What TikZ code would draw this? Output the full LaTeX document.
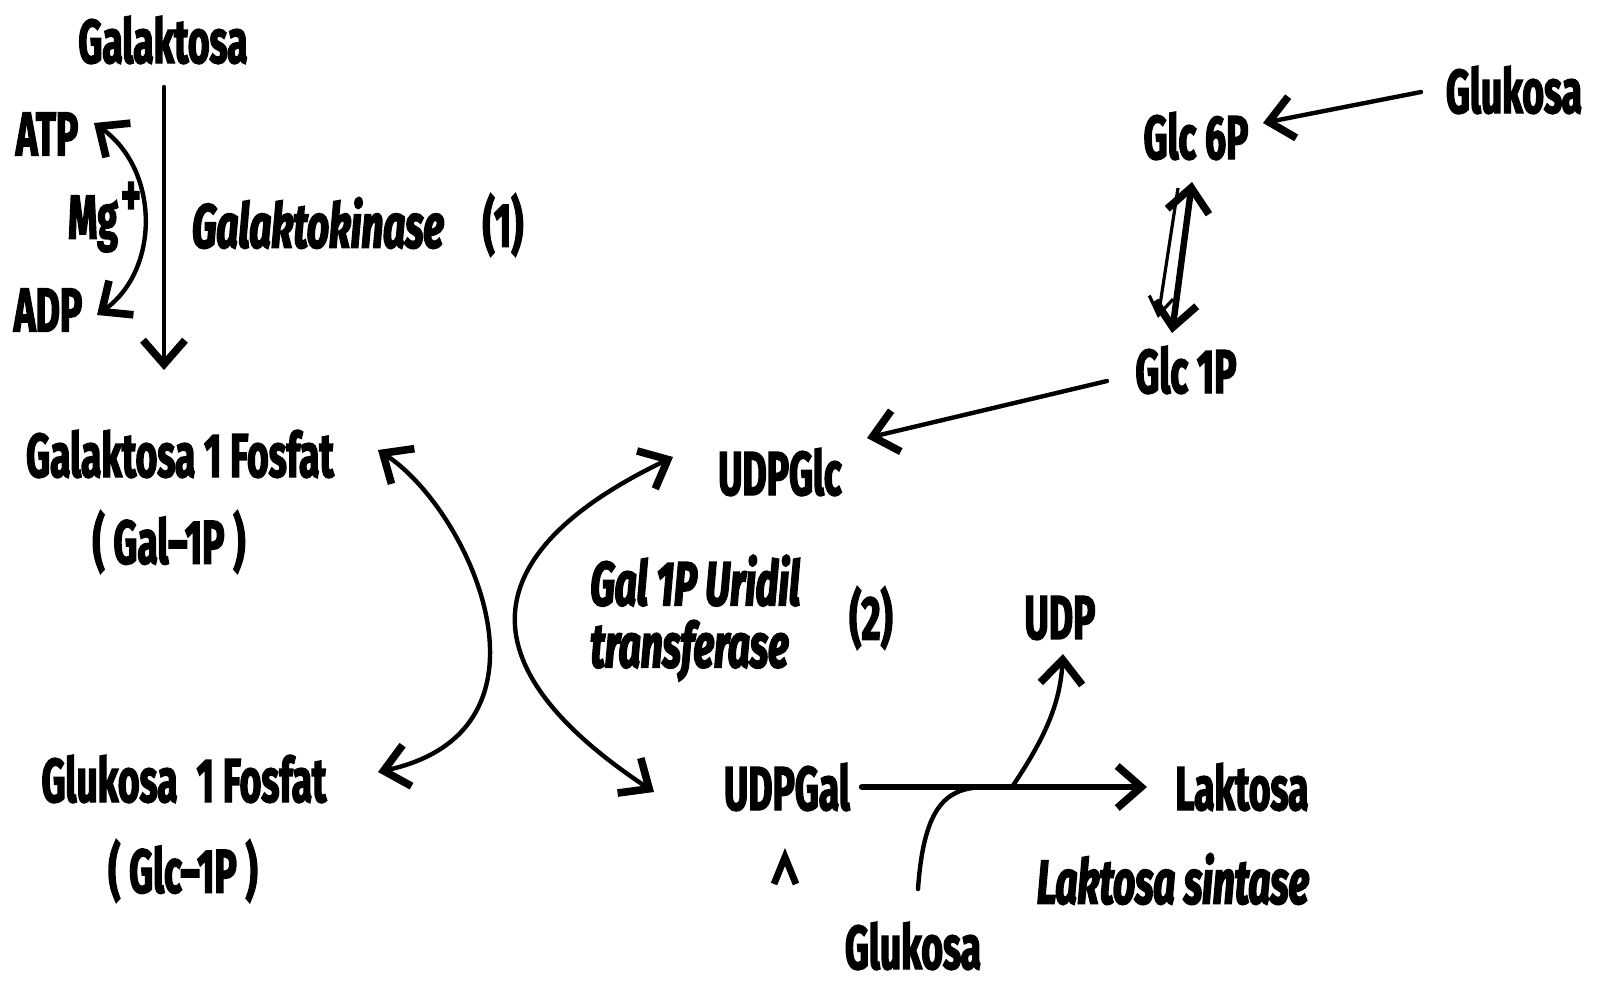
\documentclass[tikz,border=0pt]{standalone}
\usepackage{fontspec}
\setmainfont{Fira Sans}[FakeStretch=0.6, FakeBold=2.2]
\newfontfamily\enzfont{Fira Sans}[FakeStretch=0.62, FakeBold=2.8]
\usetikzlibrary{arrows.meta}

\begin{document}
\begin{tikzpicture}[x=0.5pt,y=-0.5pt,
  lbl/.style={font=\fontsize{31}{36}\selectfont\bfseries, inner sep=1pt},
  enz/.style={font=\fontsize{31}{31}\selectfont\enzfont\bfseries\itshape, inner sep=1pt},
  conn/.style={line width=2.2pt, line cap=round},
  heavy/.style={line width=3.2pt, line cap=round},
  barb/.tip={Straight Barb[length=12pt,width=21pt,line width=3.8pt]},
  thinbarb/.tip={Straight Barb[length=9pt,width=12pt,line width=1.6pt]}]

\useasboundingbox (0,0) rectangle (1603,986);

% metabolites
\node[lbl] (galaktosa) at (163,40)  {Galaktosa};
\node[lbl] (atp)       at (47,134)  {ATP};
\node[lbl] (adp)       at (48,310)  {ADP};
\node[lbl] (mg)        at (93,224)  {Mg};
\node[lbl] (plus)      at (131,199) {+};
\node[lbl] (gal1p)     at (180,454) {Galaktosa 1 Fosfat};
\node[lbl] (gal1pab)   at (169,542) {( Gal–1P )};
\node[lbl] (glc1pf)    at (184,779) {Glukosa\, 1 Fosfat};
\node[lbl] (glc1pab)   at (183,871) {( Glc–1P )};
\node[lbl] (udpglc)    at (780,472) {UDPGlc};
\node[lbl] (udpgal)    at (787,787) {UDPGal};
\node[lbl] (udp)       at (1060,618) {UDP};
\node[lbl] (laktosa)   at (1242,787) {Laktosa};
\node[lbl] (glukosab)  at (913,946) {Glukosa};
\node[lbl] (glukosat)  at (1514,90) {Glukosa};
\node[lbl] (glc6p)     at (1196,136) {Glc 6P};
\node[lbl] (glc1p)     at (1186,370) {Glc 1P};

% enzymes and step numbers
\node[enz] (kinase)  at (318,223) {Galaktokinase};
\node[lbl] (n1)      at (503,225) {(1)};
\node[enz, align=left, anchor=west] (transf) at (588,618)
     {Gal 1P Uridil\\transferase};
\node[lbl] (n2)      at (871,618) {(2)};
\node[enz] (sintase) at (1173,879) {Laktosa sintase};

% galactokinase step
\draw[conn, -{barb}] ([shift={(1,47)}]galaktosa.center) -- ([shift={(-16,-84)}]gal1p.center);
\draw[conn, {barb}-{barb}] ([shift={(49,5)}]adp.center)
  .. controls +(63,-45) and +(66,47) .. ([shift={(47,-11)}]atp.center);

% uridyl transferase exchange
\draw[conn, {barb}-{barb}] ([shift={(198,-4)}]gal1p.center)
  .. controls +(92,60) and +(192,-42) .. ([shift={(194,-7)}]glc1pf.center);
\draw[conn, {barb}-{barb}] ([shift={(-107,-15)}]udpglc.center)
  .. controls +(-173,83) and +(-214,-142) .. ([shift={(-133,5)}]udpgal.center);

% glucose activation
\draw[conn, -{barb}] ([shift={(-93,2)}]glukosat.center) -- ([shift={(67,-13)}]glc6p.center);
\draw[heavy, {barb}-{barb}] ([shift={(-14,-37)}]glc1p.center) -- ([shift={(-4,46)}]glc6p.center);
\draw[line width=1.6pt, -{thinbarb}] ([shift={(-18,52)}]glc6p.center) -- ([shift={(-28,-52)}]glc1p.center);
\draw[conn, -{barb}] ([shift={(-79,11)}]glc1p.center) -- ([shift={(87,-34)}]udpglc.center);

% lactose synthase
\coordinate (j0) at (987,787);
\coordinate (j1) at (1012,787);
\draw[heavy, -{barb}] ([shift={(75,0)}]udpgal.center) -- ([shift={(-95,0)}]laktosa.center);
\draw[conn] ([shift={(5,-57)}]glukosab.center)
  .. controls +(6,-85) and +(-40,0) .. (j0);
\draw[conn, -{barb}] (j1) .. controls +(33,-49) and +(-3,50) .. ([shift={(3,36)}]udp.center);

% small caret below UDPGal
\draw[line width=3.4pt, line join=miter] (774,884) -- (785,857) -- (796,884);

\end{tikzpicture}
\end{document}
